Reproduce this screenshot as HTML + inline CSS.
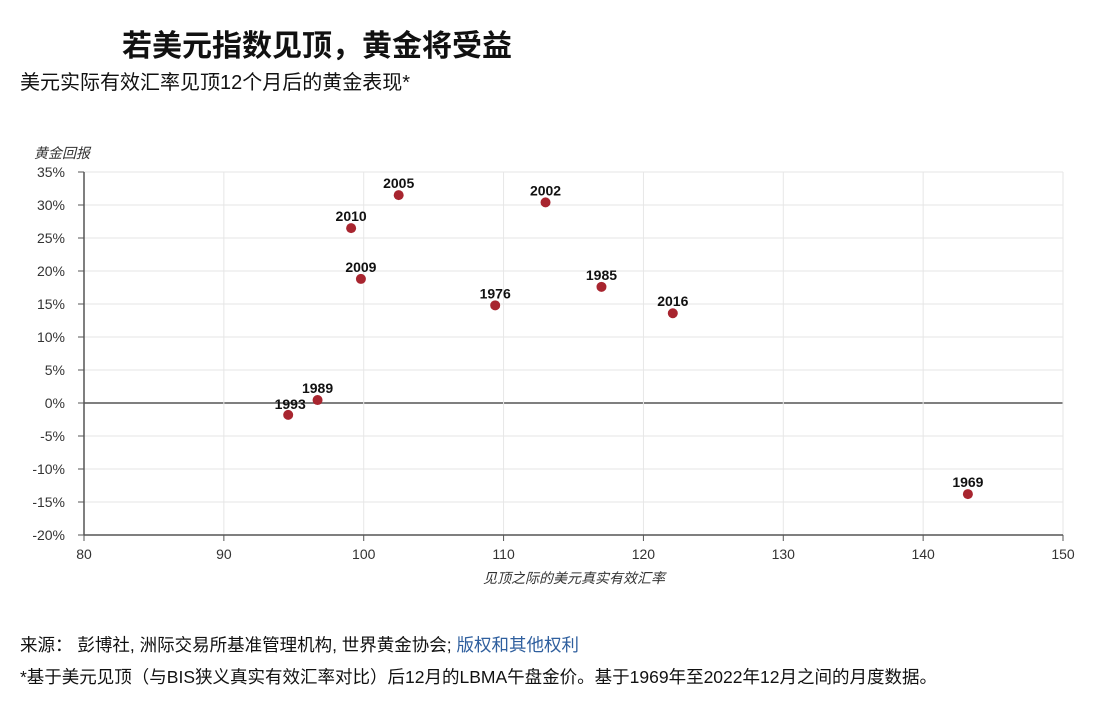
<!DOCTYPE html>
<html><head><meta charset="utf-8"><style>
body{margin:0;background:#fff;width:1108px;height:702px;overflow:hidden;font-family:"Liberation Sans","Noto Sans CJK SC",sans-serif;}
.t{position:absolute;white-space:nowrap;color:#111}
</style></head><body>
<div class="t" style="left:122px;top:21px;font-size:30px;font-weight:bold;">若美元指数见顶，黄金将受益</div>
<div class="t" style="left:20px;top:66px;font-size:20px;">美元实际有效汇率见顶12个月后的黄金表现*</div>
<svg id="chart" width="1108" height="702" style="position:absolute;left:0;top:0"></svg>
<div class="t" style="left:20px;top:632px;font-size:17.5px;">来源：&nbsp;彭博社, 洲际交易所基准管理机构, 世界黄金协会; <span style="color:#2f5f9e">版权和其他权利</span></div>
<div class="t" style="left:20px;top:664px;font-size:17.5px;">*基于美元见顶（与BIS狭义真实有效汇率对比）后12月的LBMA午盘金价。基于1969年至2022年12月之间的月度数据。</div>
<script>
const years=["1993","1989","2010","2005","2009","1976","2002","1985","2016","1969"];
const xVals=[94.6,96.7,99.1,102.5,99.8,109.4,113.0,117.0,122.1,143.2];
const yVals=[-1.8,0.45,26.5,31.5,18.8,14.8,30.4,17.6,13.6,-13.8];
const xTicks=[80,90,100,110,120,130,140,150];
const yTicks=[35,30,25,20,15,10,5,0,-5,-10,-15,-20];
const svg=document.getElementById('chart');const NS='http://www.w3.org/2000/svg';
const X=v=>84+(v-80)*(1063-84)/70;const Y=v=>172+(35-v)*(535-172)/55;
function mk(t,a,txt){const e=document.createElementNS(NS,t);for(const k in a)e.setAttribute(k,a[k]);if(txt!==undefined)e.textContent=txt;svg.appendChild(e);return e;}
yTicks.forEach(v=>{let g=mk('line',{x1:84,x2:1063,y1:Y(v),y2:Y(v),stroke:v===0?'#555':'#e6e6e6','stroke-width':v===0?1.5:1});

let tk=mk('line',{x1:78,x2:84,y1:Y(v),y2:Y(v),stroke:'#555'});
let t=mk('text',{x:65,y:Y(v)+5,'text-anchor':'end','font-size':14,fill:'#333'},v+'%');});
xTicks.forEach(v=>{let g=mk('line',{x1:X(v),x2:X(v),y1:172,y2:535,stroke:'#e6e6e6'});
let tk=mk('line',{x1:X(v),x2:X(v),y1:535,y2:541,stroke:'#555'});
let t=mk('text',{x:X(v),y:559,'text-anchor':'middle','font-size':14,fill:'#333'},v);});
let ax=mk('line',{x1:84,x2:84,y1:172,y2:535,stroke:'#555','stroke-width':1.5});
let bx=mk('line',{x1:84,x2:1063,y1:535,y2:535,stroke:'#555','stroke-width':1.5});
let yt=mk('text',{x:34,y:158,'font-size':14,'font-style':'italic',fill:'#333'},'黄金回报');
let xt=mk('text',{x:574,y:583,'text-anchor':'middle','font-size':14,'font-style':'italic',fill:'#333'},'见顶之际的美元真实有效汇率');
years.forEach((yr,i)=>{const cx=X(xVals[i]),cy=Y(yVals[i]);
let c=mk('circle',{cx:cx,cy:cy,r:5,fill:'#a8252f'});
let t=mk('text',{x:cx+(yr==='1993'?2:0),y:cy-(yr==='1993'?6:7),'text-anchor':'middle','font-size':14,'font-weight':'bold',fill:'#111'},yr);});
</script>
</body></html>
